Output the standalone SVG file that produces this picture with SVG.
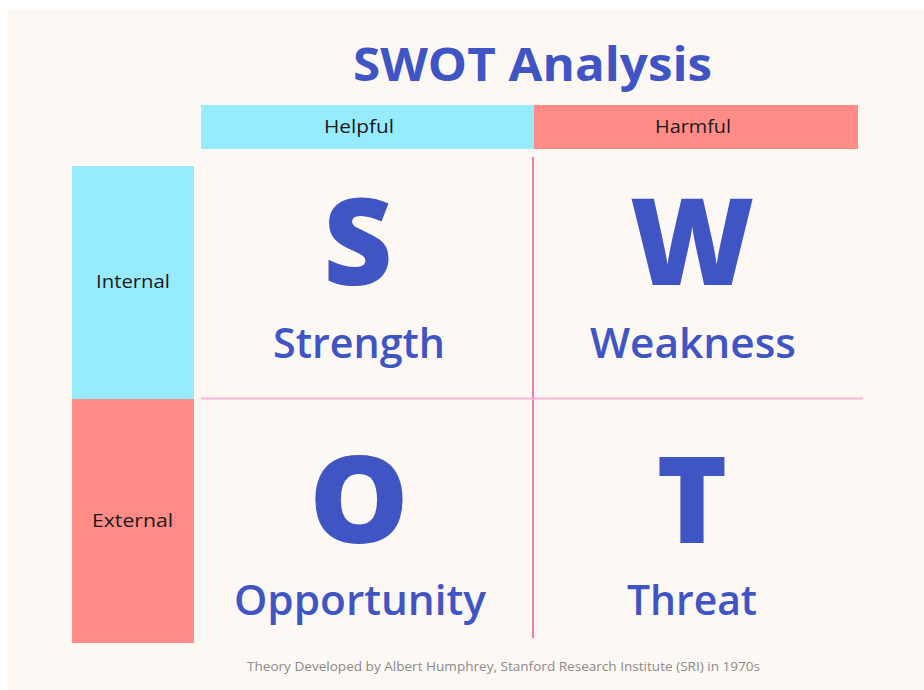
<svg xmlns="http://www.w3.org/2000/svg" width="924" height="690" viewBox="0 0 924 690">
<style>
.t{font-family:"Open Sans","Liberation Sans",sans-serif;fill:#3f55c3;text-anchor:middle}
.big{font-size:120px;font-weight:800}
.word{font-size:42px;font-weight:600}
.lab{font-family:"Open Sans","Liberation Sans",sans-serif;font-size:19px;fill:#1a1a1a;text-anchor:middle}
.cyan{fill:#96ebfd}
.red{fill:#ff8c86}
</style>
<rect x="0" y="0" width="924" height="690" fill="#ffffff"/>
<rect x="8" y="9" width="916" height="681" fill="#fdf8f4"/>
<text class="t" x="532.5" y="81" font-size="46" font-weight="700" textLength="359" lengthAdjust="spacingAndGlyphs">SWOT Analysis</text>
<g id="helpful"><rect class="cyan" x="201" y="105" width="333" height="44"/><text class="lab" x="359" y="133" textLength="70" lengthAdjust="spacingAndGlyphs">Helpful</text></g>
<g id="harmful"><rect class="red" x="534" y="105" width="324" height="44"/><text class="lab" x="693" y="133" textLength="76" lengthAdjust="spacingAndGlyphs">Harmful</text></g>
<g id="internal"><rect class="cyan" x="72" y="166" width="122" height="233"/><text class="lab" x="133" y="288" textLength="74" lengthAdjust="spacingAndGlyphs">Internal</text></g>
<g id="external"><rect class="red" x="72" y="399" width="122" height="244"/><text class="lab" x="132.5" y="527" textLength="81" lengthAdjust="spacingAndGlyphs">External</text></g>
<g id="connectors">
<line x1="533" y1="157" x2="533" y2="638" stroke="#f279ab" stroke-width="2"/>
<line x1="201" y1="398.5" x2="863" y2="398.5" stroke="#f7b3cf" stroke-width="2"/>
</g>
<g id="strength"><text class="t big" x="358" y="285">S</text><text class="t word" x="359" y="358" textLength="172" lengthAdjust="spacingAndGlyphs">Strength</text></g>
<g id="weakness"><text class="t big" x="692" y="285">W</text><text class="t word" x="693" y="358" textLength="206" lengthAdjust="spacingAndGlyphs">Weakness</text></g>
<g id="opportunity"><text class="t big" x="359" y="543" textLength="100" lengthAdjust="spacingAndGlyphs">O</text><text class="t word" x="360" y="615" textLength="252" lengthAdjust="spacingAndGlyphs">Opportunity</text></g>
<g id="threat"><text class="t big" x="692" y="543">T</text><text class="t word" x="692" y="615" textLength="130" lengthAdjust="spacingAndGlyphs">Threat</text></g>
<text x="503.5" y="671" font-family="Open Sans, Liberation Sans, sans-serif" font-size="12.5" fill="#8a8a8a" text-anchor="middle" textLength="513" lengthAdjust="spacingAndGlyphs">Theory Developed by Albert Humphrey, Stanford Research Institute (SRI) in 1970s</text>
</svg>
